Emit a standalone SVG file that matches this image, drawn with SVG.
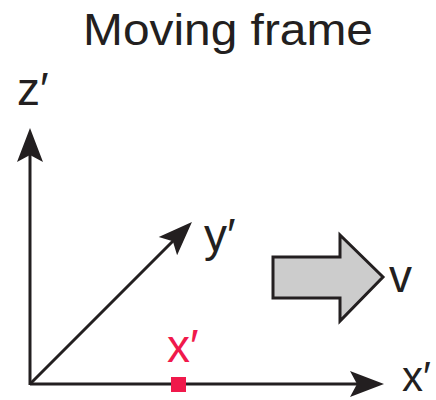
<svg xmlns="http://www.w3.org/2000/svg" width="436" height="400" viewBox="0 0 436 400">
<style>
.lbl{font-family:"Liberation Sans",Arial,sans-serif;font-size:46px;fill:#231f20}
.ax{stroke:#231f20;stroke-width:3;fill:none}
</style>
<defs>
<marker id="ah" markerUnits="userSpaceOnUse" orient="auto" markerWidth="40" markerHeight="30" refX="0" refY="0" viewBox="-36 -15 40 30" overflow="visible">
<path d="M7,0 L-27,-13 L-20,0 L-27,13 Z" fill="#231f20"/>
</marker>
</defs>
<rect width="436" height="400" fill="#fff"/>
<text x="228" y="45" text-anchor="middle" class="lbl" textLength="290" lengthAdjust="spacingAndGlyphs" style="font-size:44px">Moving frame</text>
<g id="connectors">
<line class="ax" x1="30" y1="385" x2="30" y2="135" marker-end="url(#ah)"/>
<line class="ax" x1="30" y1="384" x2="377" y2="384" marker-end="url(#ah)"/>
<line class="ax" x1="30" y1="384" x2="187" y2="227" marker-end="url(#ah)"/>
</g>
<g id="z-axis-label"><text class="lbl" x="17" y="105">z′</text></g>
<g id="y-axis-label"><text class="lbl" x="204" y="251">y′</text></g>
<g id="x-axis-label"><text class="lbl" x="402" y="391" style="font-size:42px">x′</text></g>
<g id="point"><text class="lbl" x="167" y="362" style="fill:#f0194b">x′</text><rect x="171" y="377" width="15" height="15" fill="#f0194b"/></g>
<g id="velocity"><path d="M273,257 L340,257 L340,235 L383,277 L340,321 L340,298 L273,298 Z" fill="#cccccc" stroke="#231f20" stroke-width="3" stroke-linejoin="miter"/><text class="lbl" x="389" y="292">v</text></g>
</svg>
